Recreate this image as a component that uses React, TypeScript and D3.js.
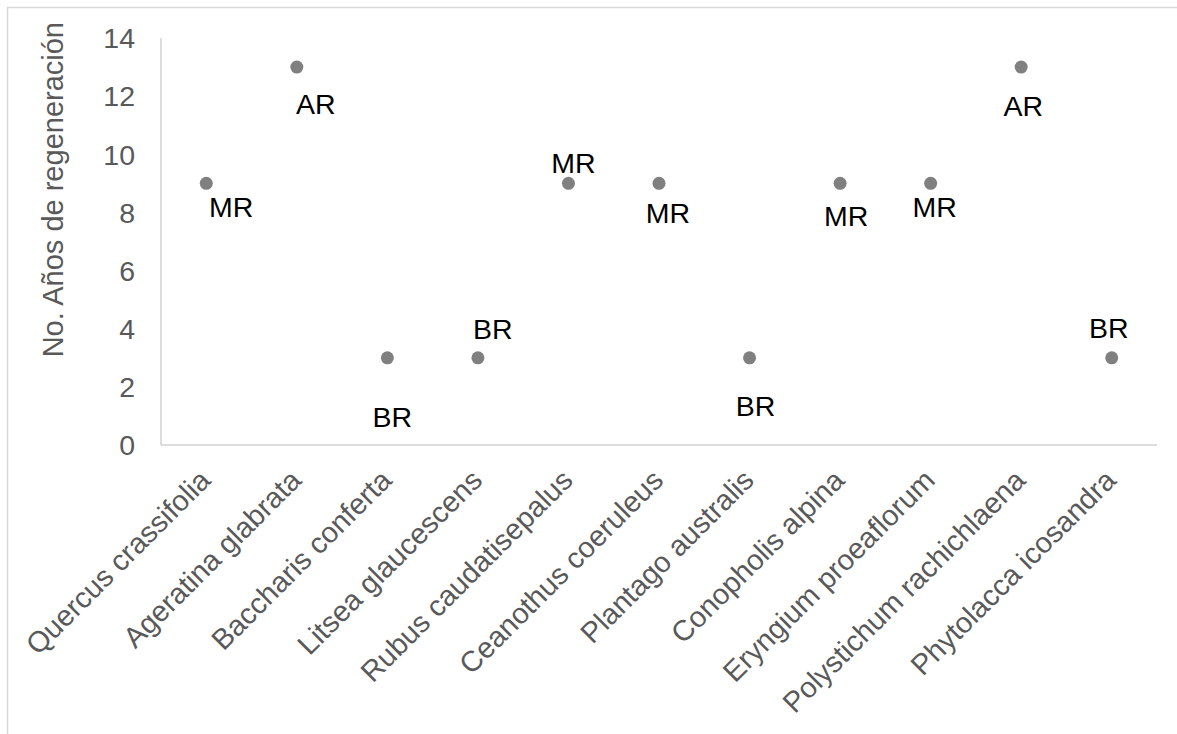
import React from "react";
import * as d3 from "d3";

const species = [
  "Quercus crassifolia",
  "Ageratina glabrata",
  "Baccharis conferta",
  "Litsea glaucescens",
  "Rubus caudatisepalus",
  "Ceanothus coeruleus",
  "Plantago australis",
  "Conopholis alpina",
  "Eryngium proeaflorum",
  "Polystichum rachichlaena",
  "Phytolacca icosandra",
];
const years = [9, 13, 3, 3, 9, 9, 3, 9, 9, 13, 3];
const classes = ["MR", "AR", "BR", "BR", "MR", "MR", "BR", "MR", "MR", "AR", "BR"];
const yTicks = [0, 2, 4, 6, 8, 10, 12, 14];
// data label placement offsets (layout)
const labelDx = [25, 19, 5, 15, 5, 9, 6, 6, 4, 2, -3];
const labelDy = [34, 47, 69, -19, -10, 40, 58, 43, 34, 49, -20];

const W = 1177;
const H = 734;
const left = 161;
const right = 1157;
const top = 38;
const bottom = 445;
const FONT = "'Liberation Sans', Arial, sans-serif";

export default function App() {
  const x = d3.scaleBand<string>().domain(species).range([left, right]).paddingInner(0).paddingOuter(0);
  const y = d3.scaleLinear().domain([0, 14]).range([bottom, top]);
  const cx = (s: string) => (x(s) as number) + x.bandwidth() / 2;

  return (
    <svg width={W} height={H} style={{ position: "absolute", left: 0, top: 0, background: "#fff" }} fontFamily={FONT}>
      <rect x={7.5} y={7.5} width={W + 50} height={H + 50} fill="#fff" stroke="#d9d9d9" strokeWidth={1.5} />
      {/* axes */}
      <line x1={left} x2={left} y1={top} y2={bottom} stroke="#d0d0d0" strokeWidth={1.5} />
      <line x1={left} x2={right} y1={bottom} y2={bottom} stroke="#d0d0d0" strokeWidth={1.5} />
      {yTicks.map((t) => (
        <text key={t} x={135} y={y(t)} dy="0.36em" textAnchor="end" fontSize={28.5} fill="#595959">
          {t}
        </text>
      ))}
      {species.map((s) => (
        <text
          key={s}
          transform={`translate(${cx(s) + 6},${bottom + 37}) rotate(-45)`}
          textAnchor="end"
          fontSize={29}
          fill="#595959"
        >
          {s}
        </text>
      ))}
      <text transform={`translate(63,22) rotate(-90)`} textAnchor="end" fontSize={29} fill="#595959">
        No. Años de regeneración
      </text>
      {species.map((s, i) => (
        <circle key={s} cx={cx(s)} cy={y(years[i])} r={6.5} fill="#808080" />
      ))}
      {species.map((s, i) => (
        <text key={s} x={cx(s) + labelDx[i]} y={y(years[i]) + labelDy[i]} textAnchor="middle" fontSize={28.5} fill="#000">
          {classes[i]}
        </text>
      ))}
    </svg>
  );
}
